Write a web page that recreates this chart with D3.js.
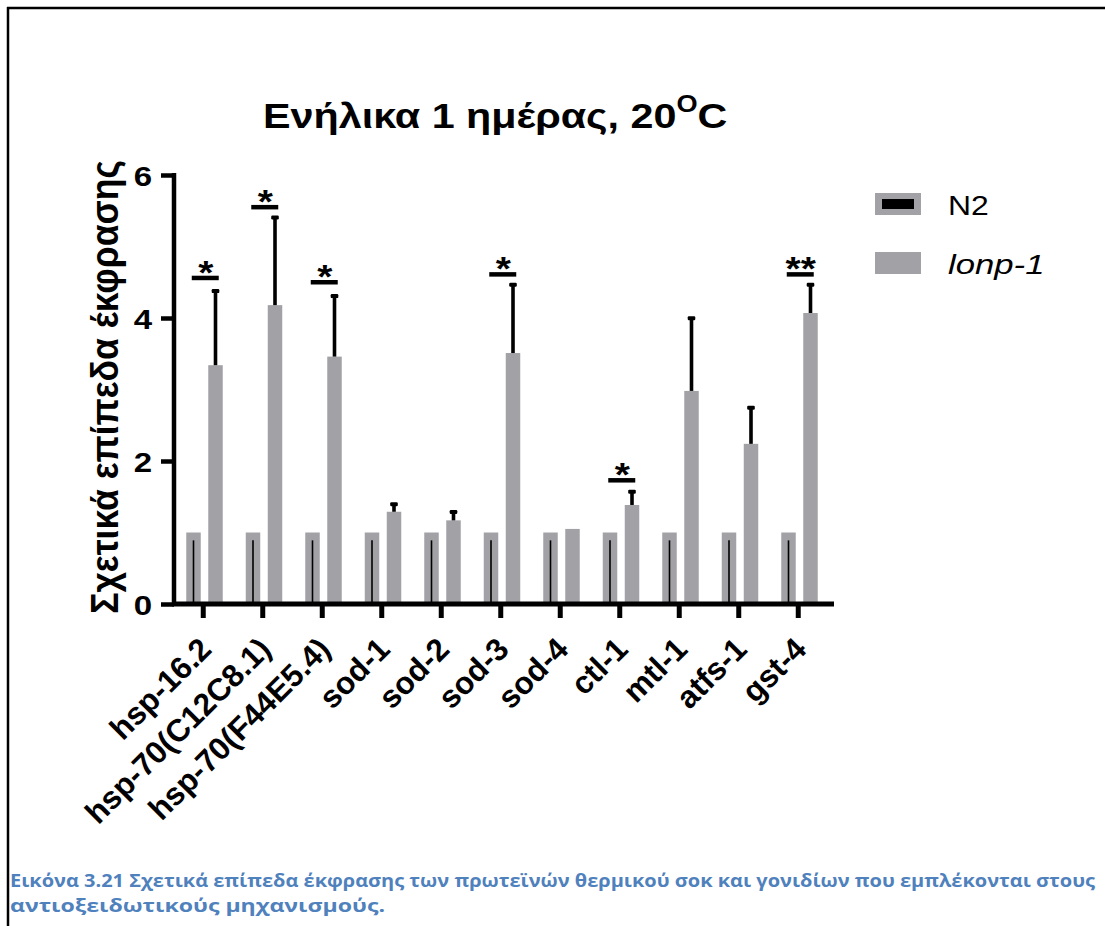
<!DOCTYPE html>
<html>
<head>
<meta charset="utf-8">
<script src="https://cdn.jsdelivr.net/npm/d3@7"></script>
<style>
  html, body { margin: 0; padding: 0; background: #fff; }
  svg { display: block; }
</style>
</head>
<body>
<svg id="chart" width="1105" height="926"></svg>
<script>
// ---- data ----
const categories = ["hsp-16.2", "hsp-70(C12C8.1)", "hsp-70(F44E5.4)", "sod-1", "sod-2", "sod-3", "sod-4", "ctl-1", "mtl-1", "atfs-1", "gst-4"];
const seriesNames = ["N2", "lonp-1"];
const n2Values = [1, 1, 1, 1, 1, 1, 1, 1, 1, 1, 1];
const n2LowerLineTop = [0.89, 0.89, 0.89, 0.89, 0.89, 0.89, 0.89, 0.89, 0.89, 0.89, 0.89];
const lonpValues = [3.34, 4.18, 3.46, 1.29, 1.17, 3.51, 1.05, 1.385, 2.98, 2.24, 4.07];
const lonpSD = [1.05, 1.24, 0.86, 0.12, 0.13, 0.97, 0, 0.2, 1.03, 0.52, 0.41];
const sigLabels = ["*", "*", "*", "", "", "*", "", "*", "", "", "**"];
const sigHeights = [4.56, 5.55, 4.5, null, null, 4.61, null, 1.73, null, null, 4.61];
const yTicks = [0, 2, 4, 6];
const title = "Ενήλικα 1 ημέρας, 20";
const yLabel = "Σχετικά επίπεδα έκφρασης";
const captionLines = [
  "Εικόνα 3.21 Σχετικά επίπεδα έκφρασης των πρωτεϊνών θερμικού σοκ και γονιδίων που εμπλέκονται στους",
  "αντιοξειδωτικούς μηχανισμούς."
];

// ---- layout ----
const svg = d3.select("#chart");
const barColor = "#a2a1a6";
const font = "'Liberation Sans', Arial, sans-serif";
const sx = 1.18; // horizontal text stretch seen in the reference

// frame
svg.append("line").attr("x1", 7).attr("x2", 1105).attr("y1", 8).attr("y2", 8)
  .attr("stroke", "#000").attr("stroke-width", 2.5);
svg.append("line").attr("x1", 8).attr("x2", 8).attr("y1", 7).attr("y2", 926)
  .attr("stroke", "#000").attr("stroke-width", 2.5);

const x = d3.scaleBand().domain(categories).range([173.5, 828]).padding(0);
const xs = d3.scaleBand().domain(seriesNames).range([-17, 19.5]).paddingInner(0.341).paddingOuter(0);
const y = d3.scaleLinear().domain([0, 6]).range([604, 175]);

const g = svg.append("g");

// N2 bars
g.selectAll("rect.n2").data(categories).join("rect")
  .attr("class", "n2")
  .attr("x", (d) => x(d) + x.bandwidth() / 2 + xs("N2"))
  .attr("width", xs.bandwidth())
  .attr("y", (d, i) => y(n2Values[i]))
  .attr("height", (d, i) => y(0) - y(n2Values[i]))
  .attr("fill", barColor);

// N2 inner line
g.selectAll("line.n2line").data(categories).join("line")
  .attr("class", "n2line")
  .attr("x1", (d) => x(d) + x.bandwidth() / 2 + xs("N2") + xs.bandwidth() / 2)
  .attr("x2", (d) => x(d) + x.bandwidth() / 2 + xs("N2") + xs.bandwidth() / 2)
  .attr("y1", (d, i) => y(n2LowerLineTop[i]))
  .attr("y2", y(0))
  .attr("stroke", "#000").attr("stroke-width", 1.6);

// lonp-1 bars
g.selectAll("rect.lonp").data(categories).join("rect")
  .attr("class", "lonp")
  .attr("x", (d) => x(d) + x.bandwidth() / 2 + xs("lonp-1"))
  .attr("width", xs.bandwidth())
  .attr("y", (d, i) => y(lonpValues[i]))
  .attr("height", (d, i) => y(0) - y(lonpValues[i]))
  .attr("fill", barColor);

// lonp-1 error bars
const errData = categories.map((c, i) => ({ c, i })).filter((d) => lonpSD[d.i] > 0);
const lcx = (c) => x(c) + x.bandwidth() / 2 + xs("lonp-1") + xs.bandwidth() / 2;
g.selectAll("line.err").data(errData).join("line")
  .attr("class", "err")
  .attr("x1", (d) => lcx(d.c)).attr("x2", (d) => lcx(d.c))
  .attr("y1", (d) => y(lonpValues[d.i]))
  .attr("y2", (d) => y(lonpValues[d.i] + lonpSD[d.i]) + 1)
  .attr("stroke", "#000").attr("stroke-width", 3.6);
g.selectAll("rect.cap").data(errData).join("rect")
  .attr("class", "cap")
  .attr("x", (d) => lcx(d.c) - 3.8)
  .attr("width", 7.6)
  .attr("y", (d) => y(lonpValues[d.i] + lonpSD[d.i]) - 1)
  .attr("height", 4)
  .attr("rx", 1.2)
  .attr("fill", "#000");

// significance
const sigData = categories.map((c, i) => ({ c, i })).filter((d) => sigLabels[d.i]);
g.selectAll("line.sig").data(sigData).join("line")
  .attr("class", "sig")
  .attr("x1", (d) => x(d.c) + x.bandwidth() / 2 - 11.5)
  .attr("x2", (d) => x(d.c) + x.bandwidth() / 2 + 15.5)
  .attr("y1", (d) => y(sigHeights[d.i])).attr("y2", (d) => y(sigHeights[d.i]))
  .attr("stroke", "#000").attr("stroke-width", 4.5);
g.selectAll("text.sig").data(sigData).join("text")
  .attr("class", "sig")
  .attr("transform", (d) => `translate(${x(d.c) + x.bandwidth() / 2 + 2.5},${y(sigHeights[d.i]) + 6}) scale(${sx},1)`)
  .attr("text-anchor", "middle")
  .attr("font-family", font).attr("font-weight", "bold").attr("font-size", 33)
  .text((d) => sigLabels[d.i]);

// y axis
const yAxis = d3.axisLeft(y).tickValues(yTicks).tickSize(13).tickSizeOuter(0).tickPadding(8).tickFormat(d3.format("d"));
const yg = svg.append("g").attr("transform", "translate(174,0)").call(yAxis);
yg.select(".domain").attr("stroke", "#000").attr("stroke-width", 4.5)
  .attr("d", `M0,${y(6) - 2}V${y(0) + 2}`);
yg.selectAll(".tick line").attr("stroke", "#000").attr("stroke-width", 4.5);
yg.selectAll(".tick text").attr("font-family", font).attr("font-weight", "bold")
  .attr("font-size", 28).attr("fill", "#000").attr("dy", "0.36em")
  .attr("x", -22 / sx).attr("transform", `scale(${sx},1)`);

// x axis
const xAxis = d3.axisBottom(x).tickSize(14).tickSizeOuter(0).tickFormat("");
const xg = svg.append("g").attr("transform", `translate(0,${y(0)})`).call(xAxis);
xg.select(".domain").attr("stroke", "#000").attr("stroke-width", 5)
  .attr("d", `M172,0H834`);
xg.selectAll(".tick line").attr("stroke", "#000").attr("stroke-width", 5);

// x labels
svg.append("g").selectAll("text").data(categories).join("text")
  .attr("transform", (d) => `translate(${x(d) + x.bandwidth() / 2 + 10},${651}) rotate(-45)`)
  .attr("text-anchor", "end")
  .attr("font-family", font).attr("font-weight", "bold").attr("font-size", 31.5)
  .attr("fill", "#000")
  .text((d) => d);

// y label
svg.append("text")
  .attr("transform", `translate(118,387) scale(1.1,1) rotate(-90)`)
  .attr("text-anchor", "middle")
  .attr("font-family", font).attr("font-weight", "bold").attr("font-size", 35.5)
  .attr("fill", "#000")
  .text(yLabel);

// title
const t = svg.append("text")
  .attr("transform", `translate(263,128) scale(${sx},1)`)
  .attr("font-family", font).attr("font-weight", "bold").attr("font-size", 35)
  .attr("fill", "#000");
t.append("tspan").text(title);
t.append("tspan").attr("font-size", 23).attr("dy", -16).text("O");
t.append("tspan").attr("dy", 16).text("C");

// legend
const legend = svg.append("g");
const legendY = [193, 252];
legend.selectAll("rect.lg").data(seriesNames).join("rect")
  .attr("class", "lg")
  .attr("x", 875).attr("width", 46)
  .attr("y", (d, i) => legendY[i]).attr("height", 22)
  .attr("fill", barColor);
legend.append("rect").attr("x", 882).attr("y", legendY[0] + 6).attr("width", 32).attr("height", 10).attr("fill", "#000");
legend.selectAll("text").data(seriesNames).join("text")
  .attr("transform", (d, i) => `translate(948,${legendY[i] + 22}) scale(${i === 1 ? 1.24 : 1.14},1)`)
  .attr("font-family", font).attr("font-size", 28)
  .attr("font-style", (d, i) => i === 1 ? "italic" : "normal")
  .attr("fill", "#000")
  .text((d) => d);

// caption
svg.append("g").selectAll("text").data(captionLines).join("text")
  .attr("x", 10)
  .attr("y", (d, i) => 887 + i * 25)
  .attr("font-family", "'Open Sans', sans-serif").attr("font-weight", "bold").attr("font-size", 17)
  .attr("fill", "#4f81bd")
  .attr("textLength", (d, i) => i === 0 ? 1085 : 375)
  .attr("lengthAdjust", "spacingAndGlyphs")
  .text((d) => d);
</script>
</body>
</html>
